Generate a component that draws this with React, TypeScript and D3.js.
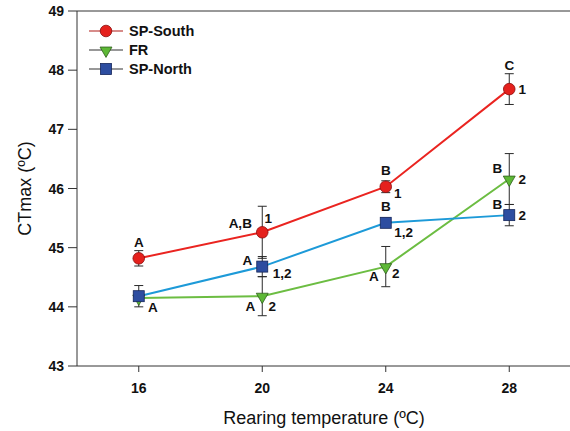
import React from "react";
import * as d3 from "d3";

const temps = [16, 20, 24, 28];
const seriesNames = ["SP-South", "FR", "SP-North"];
const spSouth = [44.82, 45.26, 46.03, 47.68];
const spSouthErr = [0.13, 0.44, 0.1, 0.26];
const fr = [44.15, 44.18, 44.68, 46.16];
const frErr = [0.0, 0.33, 0.34, 0.43];
const spNorth = [44.18, 44.68, 45.42, 45.55];
const spNorthErr = [0.18, 0.17, 0.08, 0.18];
const yTicks = [43, 44, 45, 46, 47, 48, 49];
const xTicks = [16, 20, 24, 28];

// annotation text per series and temperature index
const spSouthLabels = [
  { i: 0, t: "A", pos: "above" },
  { i: 1, t: "A,B", pos: "upLeftFar" },
  { i: 1, t: "1", pos: "upRightNear" },
  { i: 2, t: "B", pos: "above" },
  { i: 2, t: "1", pos: "downRight" },
  { i: 3, t: "C", pos: "aboveFar" },
  { i: 3, t: "1", pos: "right" },
];
const frLabels = [
  { i: 1, t: "A", pos: "downLeft" },
  { i: 1, t: "2", pos: "downRightNear" },
  { i: 2, t: "A", pos: "downLeft" },
  { i: 2, t: "2", pos: "rightLow" },
  { i: 3, t: "B", pos: "upLeft" },
  { i: 3, t: "2", pos: "right" },
];
const spNorthLabels = [
  { i: 0, t: "A", pos: "downRightFar" },
  { i: 1, t: "A", pos: "leftUp" },
  { i: 1, t: "1,2", pos: "rightDownWide" },
  { i: 2, t: "B", pos: "above" },
  { i: 2, t: "1,2", pos: "rightDownWide2" },
  { i: 3, t: "B", pos: "upLeft" },
  { i: 3, t: "2", pos: "right" },
];

const offsets: Record<string, [number, number]> = {
  above: [0, -16],
  aboveFar: [0, -24],
  upLeftFar: [-22, -9],
  upRightNear: [6, -14],
  downRight: [12, 7],
  right: [13, 0],
  downLeft: [-12, 10],
  downRightNear: [10, 10.5],
  rightLow: [10, 7],
  upLeft: [-12, -11],
  downRightFar: [14, 11],
  leftUp: [-15, -6],
  rightDownWide: [20, 7],
  rightDownWide2: [18, 10],
};

const W = 570;
const H = 431;
const left = 77;
const right = 571;
const top = 11;
const bottom = 366;

export default function App() {
  const x = d3.scaleLinear().domain([14, 30]).range([left, right]);
  const y = d3.scaleLinear().domain([43, 49]).range([bottom, top]);
  const line = d3
    .line<[number, number]>()
    .x((d) => x(d[0]))
    .y((d) => y(d[1]));

  const series = [
    { name: seriesNames[0], vals: spSouth, err: spSouthErr, line: "#ea2420", fill: "#e5211d", stroke: "#8a0c0c", shape: "circle", labels: spSouthLabels },
    { name: seriesNames[1], vals: fr, err: frErr, line: "#6cbd42", fill: "#5db836", stroke: "#2f5e1c", shape: "tri", labels: frLabels },
    { name: seriesNames[2], vals: spNorth, err: spNorthErr, line: "#1d9ad8", fill: "#2d4da0", stroke: "#15265a", shape: "square", labels: spNorthLabels },
  ];

  const marker = (s: any, cx: number, cy: number, key: string) => {
    if (s.shape === "circle")
      return <circle key={key} cx={cx} cy={cy} r={5.8} fill={s.fill} stroke={s.stroke} strokeWidth={0.8} />;
    if (s.shape === "square")
      return <rect key={key} x={cx - 5.5} y={cy - 5.5} width={11} height={11} fill={s.fill} stroke={s.stroke} strokeWidth={0.8} />;
    const p = d3.symbol().type(d3.symbolTriangle).size(62)();
    return (
      <path key={key} d={p as string} transform={`translate(${cx},${cy + 0.5}) rotate(180)`} fill={s.fill} stroke={s.stroke} strokeWidth={0.8} />
    );
  };

  const font = "'Liberation Sans', Arial, sans-serif";

  return (
    <svg width={W} height={H} style={{ position: "absolute", left: 0, top: 0, background: "#fff" }} fontFamily={font}>
      {/* frame */}
      <line x1={left} x2={W} y1={top} y2={top} stroke="#333" strokeWidth={1} />
      <line x1={left} x2={left} y1={top} y2={bottom} stroke="#333" strokeWidth={1} />
      <line x1={left} x2={W} y1={bottom} y2={bottom} stroke="#333" strokeWidth={1} />
      {yTicks.map((t) => (
        <g key={"y" + t}>
          <line x1={left - 9} x2={left} y1={y(t)} y2={y(t)} stroke="#333" />
          <text x={left - 13} y={y(t)} textAnchor="end" dominantBaseline="central" fontSize={14} fontWeight="bold" fill="#111">
            {t}
          </text>
        </g>
      ))}
      {xTicks.map((t) => (
        <g key={"x" + t}>
          <line x1={x(t)} x2={x(t)} y1={bottom} y2={bottom + 6} stroke="#333" />
          <text x={x(t)} y={bottom + 22} textAnchor="middle" dominantBaseline="central" fontSize={14} fontWeight="bold" fill="#111">
            {t}
          </text>
        </g>
      ))}
      <text x={324} y={418} textAnchor="middle" dominantBaseline="central" fontSize={18} fill="#111">
        Rearing temperature (ºC)
      </text>
      <text transform={`translate(25,${(top + bottom) / 2}) rotate(-90)`} textAnchor="middle" dominantBaseline="central" fontSize={18} fill="#111">
        CTmax (ºC)
      </text>

      {/* lines */}
      {series.map((s) => (
        <path key={"l" + s.name} d={line(temps.map((t, i) => [t, s.vals[i]]) as [number, number][]) as string} fill="none" stroke={s.line} strokeWidth={2} />
      ))}
      {/* error bars */}
      {series.map((s) =>
        temps.map((t, i) =>
          s.err[i] > 0 ? (
            <g key={"e" + s.name + i} stroke="#2a2a2a" strokeWidth={1}>
              <line x1={x(t)} x2={x(t)} y1={y(s.vals[i] + s.err[i])} y2={y(s.vals[i] - s.err[i])} />
              <line x1={x(t) - 4.5} x2={x(t) + 4.5} y1={y(s.vals[i] + s.err[i])} y2={y(s.vals[i] + s.err[i])} />
              <line x1={x(t) - 4.5} x2={x(t) + 4.5} y1={y(s.vals[i] - s.err[i])} y2={y(s.vals[i] - s.err[i])} />
            </g>
          ) : null
        )
      )}
      {/* markers */}
      {series.map((s) => temps.map((t, i) => marker(s, x(t), y(s.vals[i]), "m" + s.name + i)))}
      {/* annotations */}
      {series.map((s) =>
        s.labels.map((l, k) => {
          const [dx, dy] = offsets[l.pos];
          return (
            <text key={"t" + s.name + k} x={x(temps[l.i]) + dx} y={y(s.vals[l.i]) + dy} textAnchor="middle" dominantBaseline="central" fontSize={13.5} fontWeight="bold" fill="#111">
              {l.t}
            </text>
          );
        })
      )}
      {/* legend */}
      {series.map((s, k) => {
        const ly = 31 + k * 19;
        return (
          <g key={"lg" + s.name}>
            <line x1={89} x2={123} y1={ly} y2={ly} stroke={s.stroke === "#8a0c0c" ? "#b01a16" : "#333"} strokeWidth={1.2} />
            {marker(s, 106, ly, "lm" + k)}
            <text x={129} y={ly} dominantBaseline="central" fontSize={14.5} fontWeight="bold" fill="#111">
              {s.name}
            </text>
          </g>
        );
      })}
    </svg>
  );
}
